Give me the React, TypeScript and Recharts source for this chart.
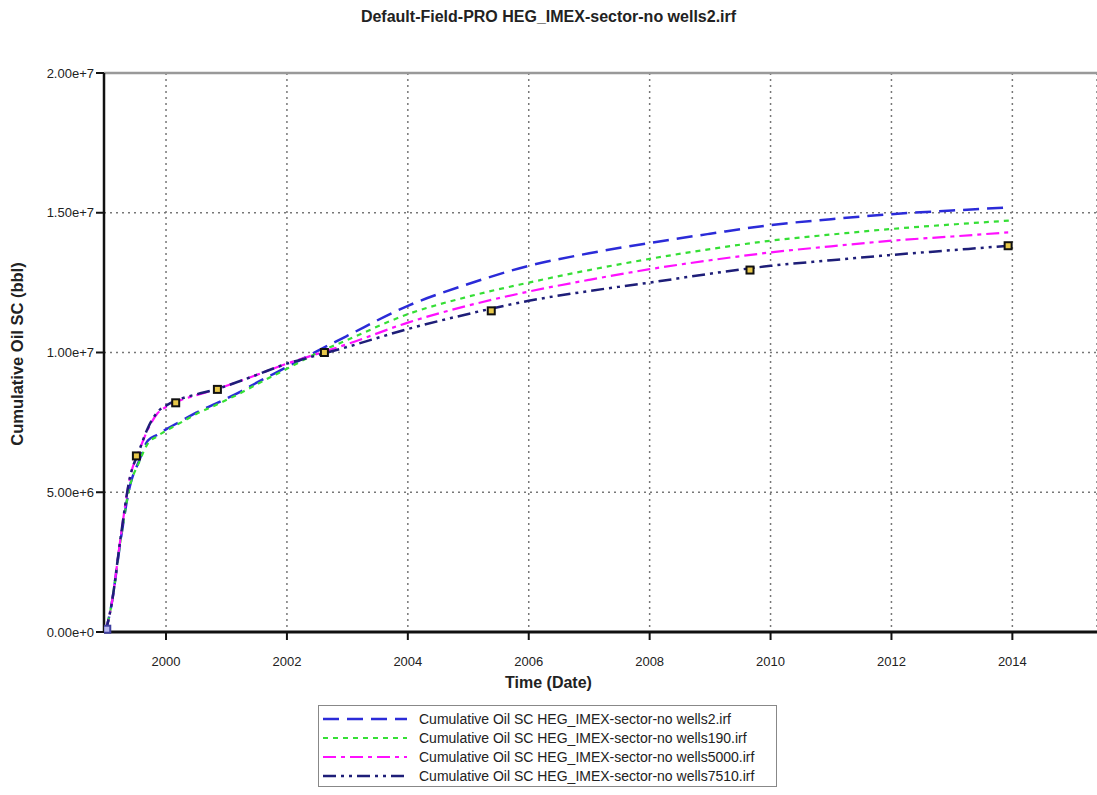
import {
  ComposedChart,
  Line,
  Scatter,
  XAxis,
  YAxis,
  CartesianGrid,
  ReferenceLine,
} from 'recharts';

// decimal years
const times = [
  1999.0, 1999.1, 1999.25, 1999.4, 1999.55, 1999.7, 1999.85, 2000, 2000.25, 2000.5,
  2000.85, 2001.25, 2001.5, 2002, 2002.5, 2003, 2004, 2005, 2006, 2007,
  2008, 2009, 2010, 2011, 2012, 2013, 2013.95,
];

// cumulative oil, million bbl
const wells2 = [
  0, 1.0, 3.3, 5.2, 6.1, 6.85, 7.05, 7.25, 7.55, 7.85,
  8.2, 8.62, 8.92, 9.48, 10.05, 10.6, 11.67, 12.45, 13.1, 13.55,
  13.92, 14.25, 14.56, 14.77, 14.95, 15.08, 15.19,
];
const wells190 = [
  0, 1.0, 3.3, 5.2, 6.05, 6.75, 7.0, 7.2, 7.5, 7.8,
  8.15, 8.57, 8.86, 9.42, 9.98, 10.45, 11.37, 12.0, 12.5, 12.95,
  13.35, 13.7, 14.0, 14.22, 14.42, 14.58, 14.72,
];
const wells5000 = [
  0, 1.0, 3.4, 5.5, 6.45, 7.25, 7.8, 8.05, 8.3, 8.47,
  8.7, 9.0, 9.2, 9.6, 9.95, 10.3, 11.07, 11.68, 12.18, 12.6,
  12.98, 13.3, 13.58, 13.8, 14.0, 14.15, 14.3,
];
const wells7510 = [
  0, 1.0, 3.4, 5.5, 6.45, 7.3, 7.85, 8.1, 8.35, 8.5,
  8.7, 9.0, 9.2, 9.6, 9.9, 10.2, 10.84, 11.38, 11.85, 12.2,
  12.5, 12.82, 13.1, 13.3, 13.49, 13.66, 13.82,
];

const markerTimes = [1999.02, 1999.51, 2000.16, 2000.85, 2002.62, 2005.38, 2009.66, 2013.93];
const markerValues = [0.1, 6.3, 8.2, 8.68, 10.0, 11.49, 12.95, 13.82];

const xTicks = [2000, 2002, 2004, 2006, 2008, 2010, 2012, 2014];
const yTicks = [0, 5e6, 1e7, 1.5e7, 2e7];

const seriesNames = [
  'Cumulative Oil SC HEG_IMEX-sector-no wells2.irf',
  'Cumulative Oil SC HEG_IMEX-sector-no wells190.irf',
  'Cumulative Oil SC HEG_IMEX-sector-no wells5000.irf',
  'Cumulative Oil SC HEG_IMEX-sector-no wells7510.irf',
];

const MM = 1e6;
const table = times.map((t, i) => ({
  t,
  w2: wells2[i] * MM,
  w190: wells190[i] * MM,
  w5000: wells5000[i] * MM,
  w7510: wells7510[i] * MM,
}));
const observed = markerTimes.map((t, i) => ({ t, v: markerValues[i] * MM }));

const FONT = '"Liberation Sans", Arial, sans-serif';

const styles = [
  { key: 'w2', color: '#2b2bd8', dash: '16 8', width: 2.5 },
  { key: 'w190', color: '#35df35', dash: '5 5', width: 2.2 },
  { key: 'w5000', color: '#ff10ff', dash: '13 5 4 5', width: 2.2 },
  { key: 'w7510', color: '#1e1e78', dash: '13 5 3 5 3 5', width: 2.5 },
];

function sci(v: number) {
  if (v === 0) return '0.00e+0';
  const e = Math.floor(Math.log10(v));
  return `${(v / Math.pow(10, e)).toFixed(2)}e+${e}`;
}

function Marker(props: any) {
  const { cx, cy, payload } = props;
  if (cx == null || cy == null) return null;
  const first = payload && payload.t === markerTimes[0];
  return (
    <rect
      x={cx - 3.5}
      y={cy - 3.5}
      width={7}
      height={7}
      fill={first ? '#b8b8f0' : '#e8c84a'}
      stroke={first ? '#4040a0' : '#111'}
      strokeWidth={2}
    />
  );
}

export default function App() {
  return (
    <div style={{ position: 'absolute', left: 0, top: 0, width: 1097, height: 795, overflow: 'hidden', background: '#fff', fontFamily: FONT }}>
      <div style={{ position: 'absolute', left: 0, top: 8, width: 1097, textAlign: 'center', fontSize: 16, fontWeight: 'bold', color: '#222' }}>
        Default-Field-PRO HEG_IMEX-sector-no wells2.irf
      </div>

      <ComposedChart
        width={1097}
        height={795}
        data={table}
        margin={{ top: 73, right: 0, bottom: 133, left: 0 }}
      >
        <CartesianGrid stroke="#777" strokeDasharray="2 4" strokeWidth={1.5} />
        <XAxis
          type="number"
          dataKey="t"
          domain={[1998.974, 2015.4]}
          ticks={xTicks}
          allowDataOverflow
          height={30}
          tickSize={8}
          tickMargin={17}
          tick={{ fontSize: 13, fill: '#222', fontFamily: FONT }}
          axisLine={{ stroke: '#111', strokeWidth: 3 }}
          tickLine={{ stroke: '#111', strokeWidth: 2 }}
        />
        <YAxis
          type="number"
          domain={[0, 2e7]}
          ticks={yTicks}
          width={104}
          tickSize={8}
          tickMargin={2}
          tickFormatter={sci}
          tick={{ fontSize: 13, fill: '#222', fontFamily: FONT }}
          axisLine={{ stroke: '#111', strokeWidth: 2.5 }}
          tickLine={{ stroke: '#111', strokeWidth: 2 }}
        />
        <ReferenceLine y={2e7} stroke="#999" strokeWidth={2.5} />
        {styles.map(s => (
          <Line
            key={s.key}
            type="monotone"
            dataKey={s.key}
            stroke={s.color}
            strokeWidth={s.width}
            strokeDasharray={s.dash}
            dot={false}
            isAnimationActive={false}
          />
        ))}
        <Scatter data={observed} dataKey="v" shape={Marker} isAnimationActive={false} />
      </ComposedChart>

      <div style={{ position: 'absolute', left: 0, top: 674, width: 1097, textAlign: 'center', fontSize: 16, fontWeight: 'bold', color: '#222' }}>
        Time (Date)
      </div>
      <div
        style={{
          position: 'absolute',
          left: 17,
          top: 354,
          transform: 'translate(-50%, -50%) rotate(-90deg)',
          whiteSpace: 'nowrap',
          fontSize: 16.5,
          fontWeight: 'bold',
          color: '#222',
        }}
      >
        Cumulative Oil SC (bbl)
      </div>

      <div
        style={{
          position: 'absolute',
          left: 318,
          top: 705,
          width: 459,
          height: 82,
          border: '1.5px solid #888',
          boxSizing: 'border-box',
          background: '#fff',
        }}
      >
        {styles.map((s, i) => (
          <div key={s.key} style={{ position: 'absolute', left: 3, top: 3 + i * 19, height: 19, display: 'flex', alignItems: 'center' }}>
            <svg width={86} height={18}>
              <line x1={1} y1={9} x2={85} y2={9} stroke={s.color} strokeWidth={s.width} strokeDasharray={s.dash} />
            </svg>
            <span style={{ marginLeft: 11, fontSize: 14, color: '#222', whiteSpace: 'nowrap' }}>{seriesNames[i]}</span>
          </div>
        ))}
      </div>
    </div>
  );
}
